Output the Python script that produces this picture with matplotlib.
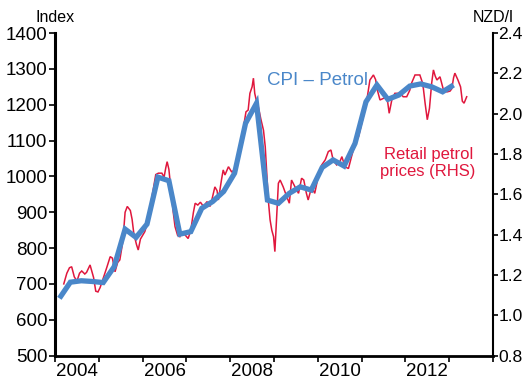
import matplotlib
matplotlib.use("Agg")
import matplotlib.pyplot as plt
from matplotlib.ticker import FixedLocator, NullFormatter, FixedFormatter

plt.rcParams['font.family'] = ['Liberation Sans', 'DejaVu Sans']

# CPI petrol index, quarterly (plotted mid-quarter)
cpi_years = [2004 + 0.1 + 0.25 * i for i in range(37)]
cpi_index = [660, 705, 709, 707,
             704, 748, 853, 830,
             867, 998, 988, 839,
             846, 911, 930, 958,
             1009, 1148, 1204, 934,
             925, 953, 971, 962,
             1025, 1046, 1029, 1092,
             1208, 1255, 1215, 1227,
             1252, 1258, 1250, 1236,
             1255]

# Retail petrol prices, NZD per litre
petrol_years = [
    2004.20, 2004.27, 2004.33, 2004.38, 2004.44, 2004.50, 2004.56, 2004.61, 2004.68, 2004.72,
    2004.80, 2004.84, 2004.88, 2004.93, 2004.98, 2005.03, 2005.10, 2005.18, 2005.26, 2005.31,
    2005.37, 2005.43, 2005.48, 2005.55, 2005.60, 2005.65, 2005.72, 2005.76, 2005.80, 2005.86,
    2005.90, 2005.95, 2006.00, 2006.05, 2006.13, 2006.20, 2006.24, 2006.30, 2006.36, 2006.44,
    2006.49, 2006.53, 2006.56, 2006.60, 2006.65, 2006.70, 2006.74, 2006.80, 2006.85, 2006.90,
    2006.96, 2007.04, 2007.10, 2007.16, 2007.20, 2007.26, 2007.32, 2007.39, 2007.47, 2007.54,
    2007.58, 2007.65, 2007.70, 2007.73, 2007.80, 2007.84, 2007.88, 2007.96, 2008.03, 2008.11,
    2008.15, 2008.22, 2008.26, 2008.32, 2008.36, 2008.41, 2008.45, 2008.50, 2008.53, 2008.56,
    2008.60, 2008.64, 2008.70, 2008.76, 2008.80, 2008.85, 2008.87, 2008.91, 2008.95, 2008.99,
    2009.02, 2009.06, 2009.10, 2009.14, 2009.21, 2009.29, 2009.35, 2009.40, 2009.48, 2009.56,
    2009.63, 2009.68, 2009.74, 2009.78, 2009.86, 2009.93, 2010.01, 2010.09, 2010.17, 2010.24,
    2010.30, 2010.35, 2010.43, 2010.50, 2010.55, 2010.62, 2010.70, 2010.77, 2010.85, 2010.93,
    2011.04, 2011.12, 2011.19, 2011.27, 2011.32, 2011.36, 2011.42, 2011.50, 2011.58, 2011.63,
    2011.69, 2011.76, 2011.88, 2011.95, 2012.03, 2012.10, 2012.14, 2012.22, 2012.33, 2012.38,
    2012.41, 2012.45, 2012.50, 2012.55, 2012.60, 2012.64, 2012.68, 2012.72, 2012.79, 2012.84,
    2012.87, 2012.95, 2013.02, 2013.06, 2013.10, 2013.13, 2013.20, 2013.26, 2013.30, 2013.34,
    2013.40]
petrol_price = [
    1.156, 1.209, 1.236, 1.241, 1.191, 1.170, 1.209, 1.220, 1.205, 1.213,
    1.250, 1.218, 1.188, 1.120, 1.116, 1.138, 1.184, 1.236, 1.291, 1.284,
    1.216, 1.262, 1.275, 1.369, 1.511, 1.540, 1.520, 1.476, 1.404, 1.351,
    1.324, 1.378, 1.396, 1.415, 1.474, 1.573, 1.621, 1.698, 1.705, 1.705,
    1.685, 1.733, 1.762, 1.724, 1.618, 1.511, 1.440, 1.396, 1.390, 1.415,
    1.401, 1.381, 1.422, 1.511, 1.556, 1.547, 1.561, 1.540, 1.564, 1.540,
    1.572, 1.637, 1.618, 1.572, 1.671, 1.721, 1.696, 1.737, 1.712, 1.721,
    1.771, 1.804, 1.852, 1.956, 2.009, 2.018, 2.101, 2.133, 2.176, 2.101,
    2.062, 2.036, 1.973, 1.918, 1.836, 1.653, 1.572, 1.474, 1.422, 1.390,
    1.316, 1.490, 1.655, 1.671, 1.637, 1.589, 1.556, 1.671, 1.637, 1.605,
    1.680, 1.671, 1.605, 1.572, 1.637, 1.605, 1.689, 1.746, 1.771, 1.812,
    1.820, 1.771, 1.746, 1.760, 1.787, 1.737, 1.728, 1.787, 1.852, 1.886,
    1.986, 2.068, 2.167, 2.192, 2.169, 2.117, 2.068, 2.076, 2.084, 2.002,
    2.068, 2.101, 2.101, 2.084, 2.084, 2.116, 2.151, 2.192, 2.192, 2.160,
    2.126, 2.052, 1.970, 2.027, 2.151, 2.217, 2.187, 2.167, 2.183, 2.142,
    2.117, 2.108, 2.112, 2.124, 2.178, 2.201, 2.167, 2.133, 2.062, 2.052,
    2.084]

left_ticks = [500, 600, 700, 800, 900, 1000, 1100, 1200, 1300, 1400]
right_ticks = [0.8, 1.0, 1.2, 1.4, 1.6, 1.8, 2.0, 2.2, 2.4]
right_labels = ['0.8', '1.0', '1.2', '1.4', '1.6', '1.8', '2.0', '2.2', '2.4']
year_labels = ['2004', '2006', '2008', '2010', '2012']

RED = '#e0173d'
BLUE = '#4a87c9'

fig = plt.figure(figsize=(5.23, 3.79), dpi=100)
ax = fig.add_axes([0.1052, 0.0615, 0.8374, 0.8514])
ax2 = ax.twinx()

ax2.plot(petrol_years, petrol_price, color=RED, lw=1.1, solid_joinstyle='miter')
ax.plot(cpi_years, cpi_index, color=BLUE, lw=3.8, solid_joinstyle='miter', solid_capstyle='butt')

# draw the index line above the petrol price line
ax.set_zorder(ax2.get_zorder() + 1)
ax.patch.set_visible(False)

ax.set_xlim(2004, 2014)
ax.set_ylim(500, 1400)
ax2.set_ylim(0.8, 2.4)

ax.set_yticks(left_ticks)
ax.set_yticklabels([str(v) for v in left_ticks])
ax2.set_yticks(right_ticks)
ax2.set_yticklabels(right_labels)

# year boundaries as ticks, labels centred in the year
ax.xaxis.set_major_locator(FixedLocator(list(range(2004, 2015))))
ax.xaxis.set_major_formatter(NullFormatter())
ax.xaxis.set_minor_locator(FixedLocator([int(y) + 0.5 for y in year_labels]))
ax.xaxis.set_minor_formatter(FixedFormatter(year_labels))
ax.tick_params(axis='x', which='major', direction='out', length=4, width=1.2)
ax.tick_params(axis='x', which='minor', length=0, pad=5, labelsize=13.5)

ax.tick_params(axis='y', direction='out', length=4, width=1.2, pad=1.5, labelsize=13.5)
ax2.tick_params(axis='y', direction='out', length=3.5, width=1.2, pad=0.5, labelsize=12.6)

for a in (ax, ax2):
    a.spines['top'].set_visible(False)
ax.spines['left'].set_linewidth(2.2)
ax.spines['bottom'].set_linewidth(2.0)
ax.spines['right'].set_visible(False)
ax2.spines['left'].set_visible(False)
ax2.spines['bottom'].set_visible(False)
ax2.spines['right'].set_linewidth(1.5)

fig.text(55 / 523, 1 - 18 / 379, 'Index', ha='center', va='center', fontsize=11.5)
fig.text(493 / 523, 1 - 18 / 379, 'NZD/l', ha='center', va='center', fontsize=11.5)

ax.text(2010.0, 1268, 'CPI \u2013 Petrol', color=BLUE, fontsize=13.5, ha='center', va='center')
ax2.text(2012.52, 1.755, 'Retail petrol\nprices (RHS)', color=RED, fontsize=12,
         ha='center', va='center', linespacing=1.2)

fig.savefig('out.png', dpi=100)
